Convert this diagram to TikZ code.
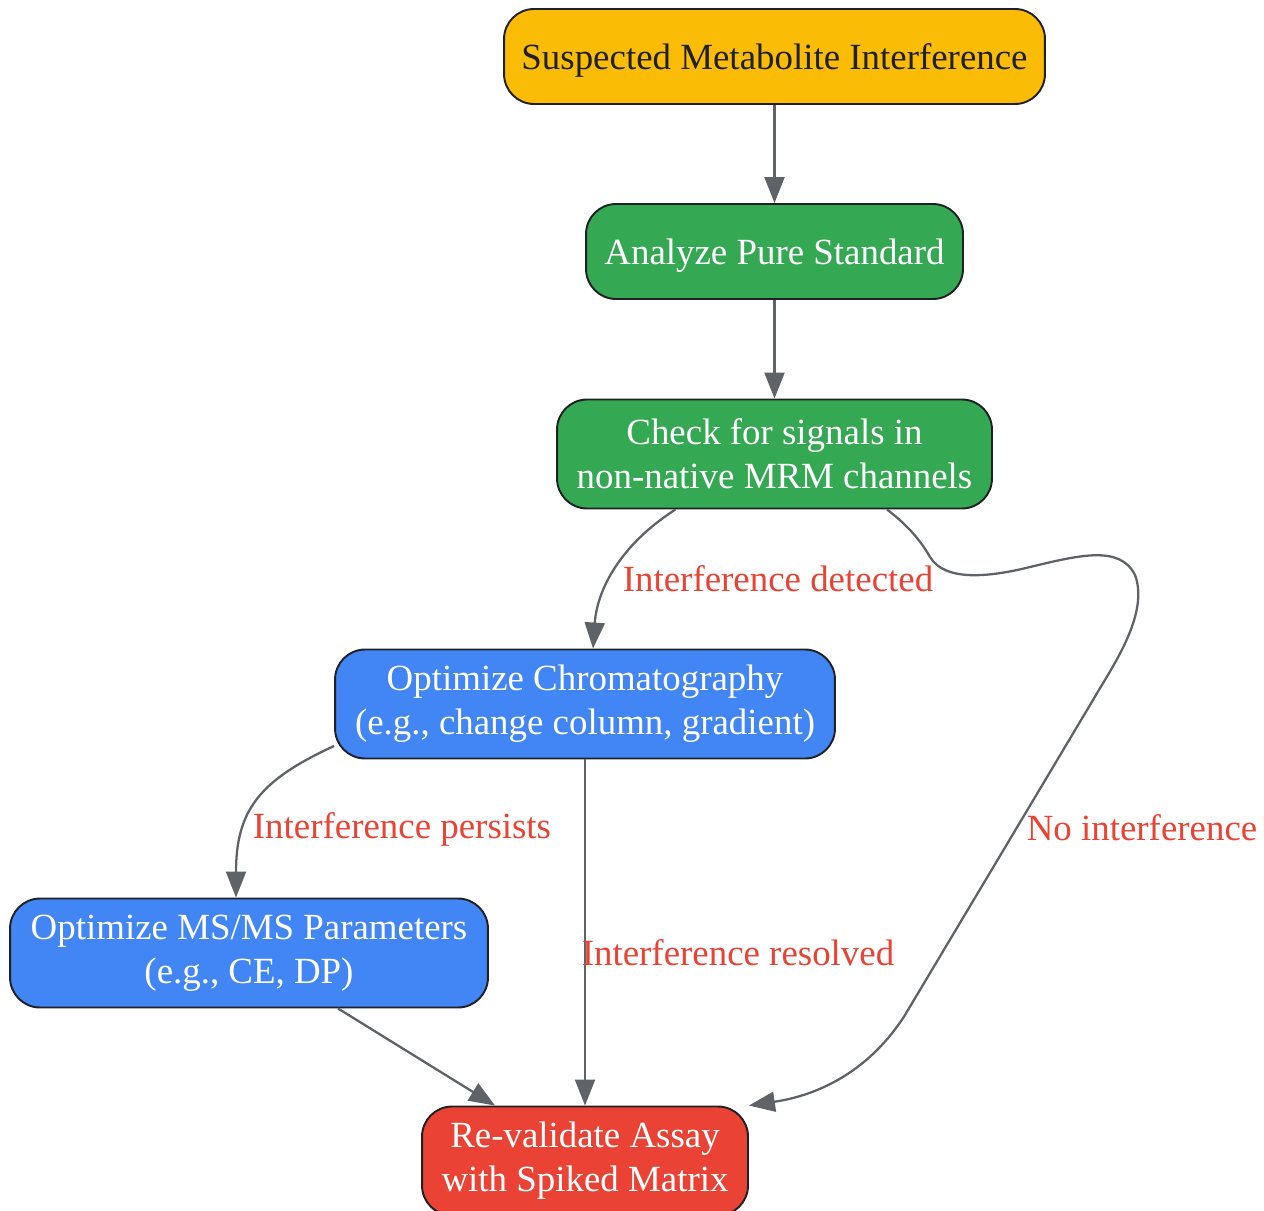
\documentclass[tikz,border=0pt]{standalone}
\usepackage{amsmath}
\usepackage{amssymb}
\usepackage{fontspec}
\setmainfont{Liberation Serif}
\usetikzlibrary{arrows.meta}
\definecolor{gYellow}{HTML}{FBBC05}
\definecolor{gGreen}{HTML}{34A853}
\definecolor{gBlue}{HTML}{4285F4}
\definecolor{gRed}{HTML}{EA4335}
\definecolor{gGray}{HTML}{5F6368}
\definecolor{gInk}{HTML}{202124}
\begin{document}
\begin{tikzpicture}[x=0.02cm,y=-0.02cm,line width=1.1pt,
  -{Triangle[length=5.2mm,width=4mm]}]
  \tikzstyle{stepbox}=[draw=gInk,rounded corners=0.6cm,align=center,text=white,
    minimum height=1.9cm,font=\fontsize{21}{25}\selectfont,inner sep=2pt,-]
  \tikzstyle{link}=[draw=gGray,line width=1.3pt]
  \tikzstyle{tag}=[text=gRed,font=\fontsize{21}{25}\selectfont]
  \useasboundingbox (0,0) rectangle (1264,1210);

  \node[stepbox,fill=gYellow,text=gInk,minimum width=10.82cm,text depth=0pt] (S_1) at (774.5,56.5) {Suspected Metabolite Interference};
  \node[stepbox,fill=gGreen,minimum width=7.54cm,text depth=0pt] (S_2) at (774.5,251.5) {Analyze Pure Standard};
  \node[stepbox,fill=gGreen,minimum width=8.7cm,minimum height=2.18cm] (S_3) at (774.5,454) {Check for signals in\\non-native MRM channels};
  \node[stepbox,fill=gBlue,minimum width=10cm,minimum height=2.18cm] (S_4) at (585,704) {Optimize Chromatography\\(e.g., change column, gradient)};
  \node[stepbox,fill=gBlue,minimum width=9.56cm,minimum height=2.18cm] (S_5) at (249,953) {Optimize MS/MS Parameters\\(e.g., CE, DP)};
  \node[stepbox,fill=gRed,minimum width=6.52cm,minimum height=2.18cm] (S_6) at (585,1161) {Re-validate Assay\\with Spiked Matrix};

  \draw[link] (S_1) -- (S_2);
  \draw[link] (S_2) -- (S_3);
  \draw[link] ([xshift=-1.98cm]S_3.south) .. controls (620,545) and (597,590) .. ([xshift=0.16cm]S_4.north);
  \node[tag] (L_1) at (778,579) {Interference detected};
  \draw[link] ([xshift=2.25cm]S_3.south) .. controls (910,527) and (922,543) .. (930,557)
    .. controls (945,582) and (990,577) .. (1030,567)
    .. controls (1080,555) and (1120,545) .. (1135,575)
    .. controls (1150,615) and (1110,670) .. (1093,700)
    -- (905,1015)
    .. controls (870,1070) and (820,1095) .. (S_6.north east);
  \node[tag] (L_2) at (1142,828) {No interference};
  \draw[link] ([yshift=-0.84cm]S_4.west) .. controls (260,780) and (236,810) .. ([xshift=-0.26cm]S_5.north);
  \node[tag] (L_3) at (402,829) {Interference persists};
  \draw[link] (S_4) -- (S_6);
  \node[tag] (L_4) at (738,953) {Interference resolved};
  \draw[link] ([xshift=1.78cm]S_5.south) -- ([xshift=-1.8cm]S_6.north);
\end{tikzpicture}
\end{document}
